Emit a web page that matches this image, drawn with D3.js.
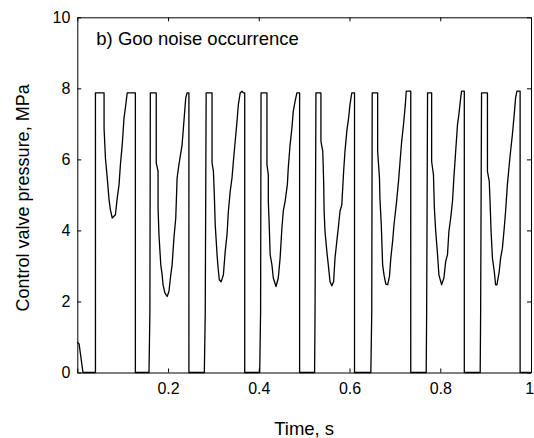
<!DOCTYPE html>
<html>
<head>
<meta charset="utf-8">
<script src="https://cdn.jsdelivr.net/npm/d3@7"></script>
<style>
    body { margin: 0; background: #fff; }
    svg text { font-family: "Liberation Sans", Arial, sans-serif; fill: #000; }
</style>
</head>
<body>
<div id="chart"></div>
<script>
//time axis values (s), one line per valve cycle
var timeS = [
    0, 0.004, 0.0125, 0.040,
    0.040, 0.059, 0.059, 0.062, 0.066, 0.070, 0.073, 0.077, 0.084, 0.088, 0.092, 0.095, 0.099, 0.103, 0.106, 0.110, 0.128, 0.128,
    0.158, 0.160, 0.161, 0.174, 0.174, 0.178, 0.178, 0.180, 0.184, 0.187, 0.189, 0.193, 0.198, 0.202, 0.206, 0.209, 0.213, 0.217, 0.220, 0.224, 0.231, 0.235, 0.239, 0.242, 0.246, 0.246,
    0.280, 0.282, 0.284, 0.297, 0.297, 0.300, 0.302, 0.304, 0.308, 0.310, 0.313, 0.317, 0.322, 0.326, 0.330, 0.333, 0.337, 0.341, 0.344, 0.348, 0.352, 0.355, 0.359, 0.363, 0.366, 0.369, 0.369,
    0.402, 0.404, 0.405, 0.418, 0.418, 0.421, 0.421, 0.423, 0.425, 0.429, 0.432, 0.438, 0.443, 0.447, 0.451, 0.454, 0.458, 0.463, 0.465, 0.469, 0.473, 0.476, 0.480, 0.484, 0.490, 0.490,
    0.523, 0.524, 0.526, 0.537, 0.537, 0.541, 0.543, 0.544, 0.546, 0.550, 0.554, 0.557, 0.561, 0.565, 0.568, 0.572, 0.576, 0.579, 0.583, 0.587, 0.590, 0.594, 0.598, 0.601, 0.605, 0.611, 0.611,
    0.647, 0.649, 0.650, 0.662, 0.662, 0.666, 0.667, 0.670, 0.673, 0.676, 0.680, 0.684, 0.688, 0.691, 0.695, 0.698, 0.703, 0.708, 0.712, 0.715, 0.719, 0.723, 0.725, 0.735, 0.735,
    0.769, 0.770, 0.772, 0.781, 0.781, 0.785, 0.787, 0.790, 0.794, 0.797, 0.803, 0.808, 0.812, 0.816, 0.819, 0.823, 0.827, 0.830, 0.834, 0.838, 0.841, 0.845, 0.847, 0.853, 0.853,
    0.888, 0.889, 0.891, 0.904, 0.904, 0.908, 0.910, 0.912, 0.915, 0.919, 0.922, 0.925, 0.930, 0.933, 0.937, 0.941, 0.944, 0.948, 0.952, 0.955, 0.959, 0.963, 0.966, 0.969, 0.976, 0.976, 1.0
];

//control valve pressure (MPa), same layout as timeS
var pressureMPa = [
    0.85, 0.80, 0, 0,
    7.87, 7.87, 6.88, 6.04, 5.48, 4.86, 4.58, 4.35, 4.44, 4.91, 5.29, 5.85, 6.41, 7.17, 7.45, 7.87, 7.87, 0,
    0, 1.70, 7.87, 7.87, 5.90, 5.66, 4.63, 3.88, 3.03, 2.75, 2.47, 2.24, 2.14, 2.28, 2.75, 3.03, 3.79, 4.35, 5.48, 5.85, 6.41, 7.07, 7.73, 7.87, 7.87, 0,
    0, 1.70, 7.87, 7.87, 5.90, 5.66, 5.00, 4.16, 3.32, 2.99, 2.61, 2.55, 2.75, 3.41, 3.88, 4.54, 5.10, 5.48, 5.94, 6.51, 7.07, 7.54, 7.87, 7.92, 7.87, 7.87, 0,
    0, 1.70, 7.87, 7.87, 5.85, 5.57, 4.82, 4.16, 3.32, 3.03, 2.66, 2.42, 2.66, 3.22, 4.07, 4.54, 4.82, 5.29, 5.76, 6.41, 6.88, 7.35, 7.63, 7.87, 7.87, 0,
    0, 1.70, 7.87, 7.87, 6.51, 6.23, 5.38, 4.54, 3.97, 3.41, 2.94, 2.56, 2.44, 2.56, 3.22, 3.69, 4.16, 4.54, 4.72, 5.66, 6.23, 6.79, 7.17, 7.54, 7.87, 7.87, 0,
    0, 1.70, 7.87, 7.87, 6.23, 5.48, 4.91, 4.16, 3.03, 2.75, 2.49, 2.47, 2.70, 3.22, 3.69, 4.16, 4.72, 5.38, 6.04, 6.51, 6.98, 7.54, 7.92, 7.92, 0,
    0, 1.70, 7.87, 7.87, 5.94, 5.57, 4.63, 3.97, 3.32, 2.75, 2.47, 2.66, 3.13, 3.32, 3.97, 4.35, 4.82, 5.48, 6.23, 6.98, 7.26, 7.73, 7.92, 7.92, 0,
    0, 1.70, 7.87, 7.87, 5.66, 5.38, 4.72, 3.97, 3.22, 2.85, 2.47, 2.47, 2.85, 3.22, 3.50, 4.07, 4.54, 5.29, 5.85, 6.23, 6.70, 7.26, 7.73, 7.92, 7.92, 0, 0
];

var xTicks = [0, 0.2, 0.4, 0.6, 0.8, 1];
var xTickLabels = ["", "0.2", "0.4", "0.6", "0.8", "1"];
var yTicks = [0, 2, 4, 6, 8, 10];
var yTickLabels = ["0", "2", "4", "6", "8", "10"];

var xTitle = "Time, s";
var yTitle = "Control valve pressure, MPa";
var panelNote = "b) Goo noise occurrence";

(function() {
    var width = 534;
    var height = 438;
    var margins = {top: 17.3, right: 3, bottom: 65.5, left: 77.3};
    var innerW = width - margins.left - margins.right;
    var innerH = height - margins.top - margins.bottom;

    var svg = d3.select("#chart")
        .append("svg")
        .attr("width", width)
        .attr("height", height);

    var g = svg.append("g")
        .attr("transform", "translate(" + margins.left + "," + margins.top + ")");

    var x = d3.scaleLinear().domain([0, 1]).range([0, innerW]);
    var y = d3.scaleLinear().domain([0, 10]).range([innerH, 0]);

    //ticks point inwards on all four sides, labels only on bottom and left
    var bottomAxis = d3.axisBottom(x).tickValues(xTicks)
        .tickSizeInner(-4).tickSizeOuter(0).tickPadding(10.5)
        .tickFormat(function(d, i) { return xTickLabels[i]; });
    var leftAxis = d3.axisLeft(y).tickValues(yTicks)
        .tickSizeInner(-4).tickSizeOuter(0).tickPadding(7)
        .tickFormat(function(d, i) { return yTickLabels[i]; });
    var topAxis = d3.axisTop(x).tickValues(xTicks)
        .tickSizeInner(-4).tickSizeOuter(0).tickFormat("");
    var rightAxis = d3.axisRight(y).tickValues(yTicks)
        .tickSizeInner(-4).tickSizeOuter(0).tickFormat("");

    var axes = [
        {axis: bottomAxis, tr: "translate(0," + innerH + ")"},
        {axis: leftAxis, tr: "translate(0,0)"},
        {axis: topAxis, tr: "translate(0,0)"},
        {axis: rightAxis, tr: "translate(" + innerW + ",0)"}
    ];

    axes.forEach(function(a) {
        var ag = g.append("g")
            .attr("transform", a.tr)
            .call(a.axis);
        ag.selectAll("path, line")
            .attr("stroke", "#000")
            .attr("stroke-width", 1);
        ag.selectAll("text")
            .style("font-size", "16px")
            .style("font-family", "'Liberation Sans', Arial, sans-serif")
            .attr("fill", "#000");
    });

    //last x label sits right at the page edge, pull it in a touch so it isn't clipped
    g.selectAll(".tick text")
        .filter(function(d) { return d === 1; })
        .attr("dx", "-1.8");

    //the pressure trace
    var points = timeS.map(function(t, i) { return [t, pressureMPa[i]]; });

    var line = d3.line()
        .x(function(d) { return x(d[0]); })
        .y(function(d) { return y(d[1]); });

    g.append("path")
        .datum(points)
        .attr("d", line)
        .attr("fill", "none")
        .attr("stroke", "#000")
        .attr("stroke-width", 1.3)
        .attr("stroke-linejoin", "round");

    g.append("text")
        .attr("x", 19)
        .attr("y", 28)
        .style("font-size", "18.5px")
        .text(panelNote);

    svg.append("text")
        .attr("x", margins.left + innerW / 2)
        .attr("y", 434.5)
        .attr("text-anchor", "middle")
        .style("font-size", "18.5px")
        .text(xTitle);

    svg.append("text")
        .attr("transform", "translate(29," + (margins.top + innerH / 2 + 3) + ") rotate(-90)")
        .attr("text-anchor", "middle")
        .style("font-size", "18px")
        .text(yTitle);
}());
</script>
</body>
</html>
